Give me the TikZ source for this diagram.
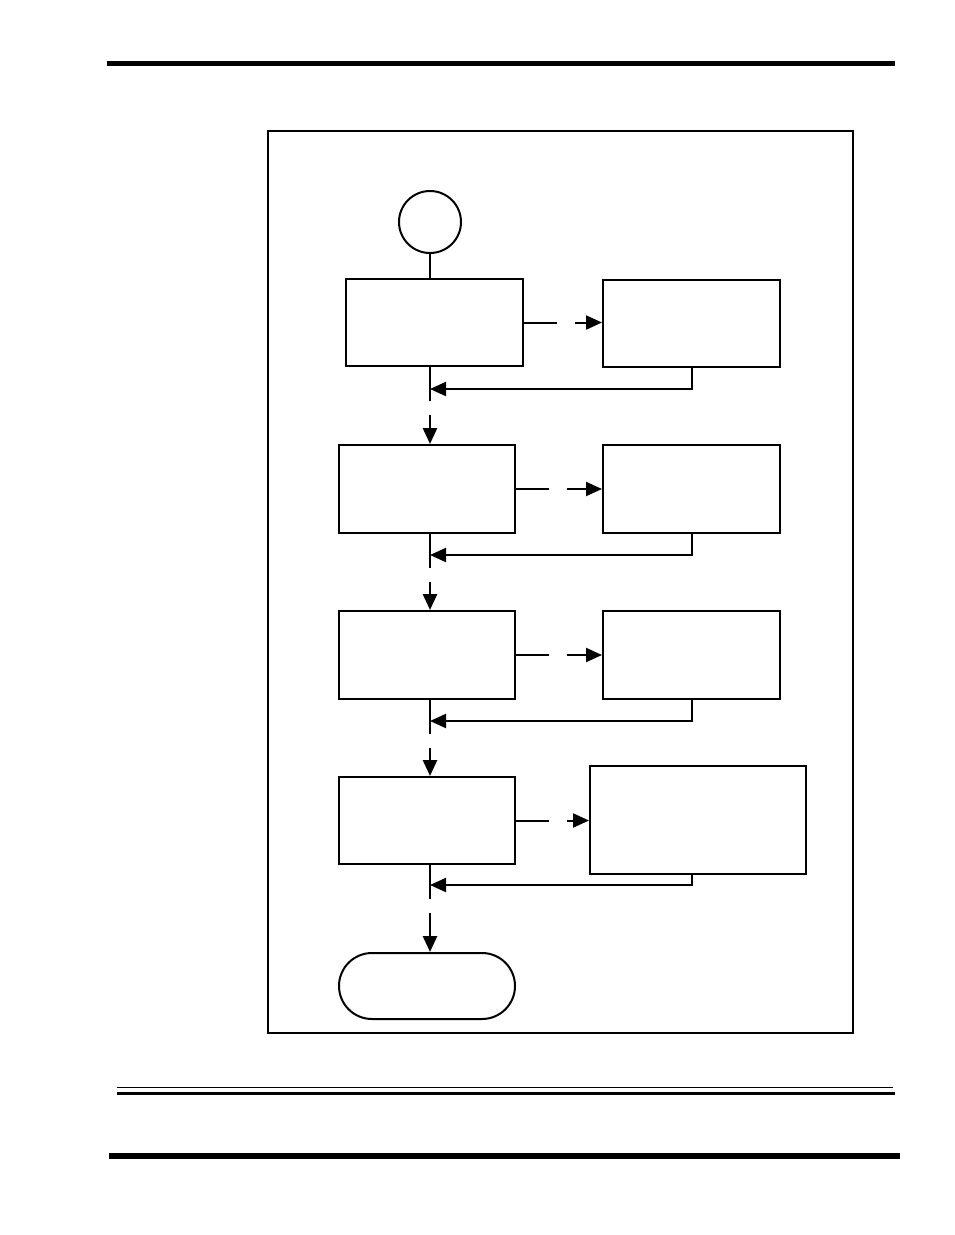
\documentclass[tikz,border=0pt]{standalone}
\usetikzlibrary{arrows.meta}
\begin{document}
\begin{tikzpicture}[x=1pt,y=-1pt,
  box/.style={draw,line width=2pt,rectangle,inner sep=0pt},
  tip/.style={-{Triangle[length=16pt,width=14pt]}},
  sidelink/.style={line width=2pt,tip,dash pattern=on 33pt off 18pt on 200pt},
  downlink/.style={line width=2.8pt,tip,dash pattern=on 34pt off 14pt on 200pt},
  retlink/.style={line width=2pt,tip}]
\useasboundingbox (0,0) rectangle (954,1235);
% page rules
\draw[line width=5pt] (107,63.5) -- (895,63.5);
\draw[line width=1pt] (117,1087) -- (893,1087);
\draw[line width=3pt] (117,1093) -- (895,1093);
\draw[line width=6pt] (109,1155.5) -- (900,1155.5);
% frame
\draw[line width=1.2pt] (268,131) rectangle (853,1033);
% nodes
\node[draw,circle,line width=2pt,minimum size=62pt,inner sep=0pt] (start) at (430,222) {};
\node[box,minimum width=177pt,minimum height=87pt] (b1) at (434.5,322.5) {};
\node[box,minimum width=177pt,minimum height=87pt] (r1) at (691.5,323.5) {};
\node[box,minimum width=176pt,minimum height=88pt] (b2) at (427,489) {};
\node[box,minimum width=177pt,minimum height=88pt] (r2) at (691.5,489) {};
\node[box,minimum width=176pt,minimum height=88pt] (b3) at (427,655) {};
\node[box,minimum width=177pt,minimum height=88pt] (r3) at (691.5,655) {};
\node[box,minimum width=176pt,minimum height=87pt] (b4) at (427,820.5) {};
\node[box,minimum width=216pt,minimum height=108pt] (r4) at (698,820) {};
\node[box,rounded corners=33pt,minimum width=176pt,minimum height=66pt] (end) at (427,986) {};
\coordinate (ret1) at (430,389);
\coordinate (ret2) at (430,555);
\coordinate (ret3) at (430,721);
\coordinate (ret4) at (430,885);
% connectors
\draw[line width=2.8pt] (start.south) -- (start.south |- b1.north);
\draw[sidelink] (b1.east) -- (b1.east -| r1.west);
\draw[sidelink] (b2.east) -- (b2.east -| r2.west);
\draw[sidelink] (b3.east) -- (b3.east -| r3.west);
\draw[sidelink] (b4.east) -- (b4.east -| r4.west);
\draw[retlink] (r1.south) |- (ret1);
\draw[retlink] (r2.south) |- (ret2);
\draw[retlink] (r3.south) |- (ret3);
\draw[retlink] (r4.south -| r1.south) |- (ret4);
\draw[downlink] (start.south |- b1.south) -- (start.south |- b2.north);
\draw[downlink] (start.south |- b2.south) -- (start.south |- b3.north);
\draw[downlink] (start.south |- b3.south) -- (start.south |- b4.north);
\draw[downlink] (start.south |- b4.south) -- (start.south |- end.north);
\end{tikzpicture}
\end{document}
